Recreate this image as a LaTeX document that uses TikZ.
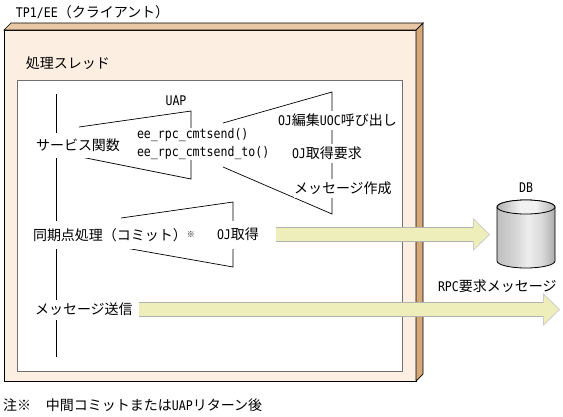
\documentclass[tikz,border=0pt]{standalone}
\usepackage{fontspec}
\setmainfont{Noto Sans CJK JP}
\newfontfamily\latfont[FakeStretch=0.87]{DejaVu Sans Mono}
\usetikzlibrary{shapes.geometric, arrows.meta, positioning, calc}
\usepackage{xcolor}
\definecolor{framebg}{HTML}{FDEEE2}
\definecolor{frametop}{HTML}{E8C8A4}
\definecolor{frameside}{HTML}{D4A878}
\definecolor{arrowbg}{HTML}{EEEEBB}
\definecolor{threadline}{HTML}{707070}
\newcommand{\lat}[1]{{\latfont\fontsize{13.3}{18}\selectfont #1}}
\pgfdeclarehorizontalshading{dbshade}{100bp}{
    color(0bp)=(black!25); color(25bp)=(black!25); color(40bp)=(black!17);
    color(52bp)=(black!7); color(64bp)=(black!15); color(75bp)=(black!33); color(100bp)=(black!33)}
\pgfdeclarehorizontalshading{dbtopshade}{100bp}{
    color(0bp)=(black!30); color(25bp)=(black!30); color(45bp)=(black!5);
    color(58bp)=(black!5); color(75bp)=(black!30); color(100bp)=(black!30)}

\begin{document}
\begin{tikzpicture}[
    x=1pt, y=-1pt,
    every node/.style={font=\fontsize{14}{18}\selectfont, inner sep=0pt, outer sep=0pt},
    framebox/.style={draw=black, fill=framebg, line width=.8pt},
    threadbox/.style={draw=threadline, fill=white, line width=1pt},
    lbl/.style={fill=white, anchor=west, minimum height=#1},
    lbl/.default=20pt,
    txt/.style={anchor=west},
    bracket/.style={draw=black, line width=.7pt},
    blockarr/.style={draw=arrowbg, line width=13pt, shorten >=16pt,
        preaction={draw=black!30, line width=14.6pt, shorten >=0pt,
            -{Triangle[length=17pt, width=33pt, fill=arrowbg, color=black!20, line width=.8pt]}}},
    dbcyl/.style={minimum width=58pt, minimum height=68pt}
]
    \useasboundingbox (0,0) rectangle (563,416);
    \node[txt] (client) at (16,12.5) {\lat{TP1/EE}（クライアント）};
    \node[framebox, minimum width=412pt, minimum height=351pt] (frame) at (210,205.5) {};
    \draw[fill=frametop, line width=.7pt] (frame.north west) -- ++(7,-7) -- ++(412,0) -- (frame.north east) -- cycle;
    \draw[fill=frameside, line width=.7pt] (frame.north east) -- ++(7,-7) -- ++(0,351) -- (frame.south east) -- cycle;
    \node[txt] (thread) at (26,63) {処理スレッド};
    \node[threadbox, minimum width=385pt, minimum height=291pt] (inner) at (209.5,225.5) {};

    \draw[bracket] (56,94) -- (56,357);
    \draw[bracket] (79,127) -- (191,111) -- (191,179) -- (81,157);
    \draw[bracket] (223,123) -- (332,92) -- (332,214) -- (223,167);
    \draw[bracket] (121,218) -- (233,202) -- (233,267) -- (120,247);

    \node[lbl=25pt] (service) at (36,145.5) {サービス関数};
    \node (uap) at (176,101) {\lat{UAP}};
    \node[fill=white, anchor=west, align=left] (cmtsend) at (137,144)
        {\lat{ee\_rpc\_cmtsend()}\\\lat{ee\_rpc\_cmtsend\_to()}};
    \node[lbl=19pt] (ojedit) at (278,120) {\lat{OJ}編集\lat{UOC}呼び出し};
    \node[lbl=19pt] (ojreq) at (292,153.5) {\lat{OJ}取得要求};
    \node[lbl=19pt] (msgmake) at (294,188.5) {メッセージ作成};
    \node[lbl=28pt] (syncpt) at (33,235) {同期点処理（コミット）\raisebox{3pt}{\fontsize{8}{8}\selectfont ※}};
    \node[lbl=28pt] (ojget) at (217,234.5) {\lat{OJ}取得};
    \node[lbl=20pt] (msgsend) at (35,309.5) {メッセージ送信};

    \node (dblabel) at (526,188) {\lat{DB}};
    \node[dbcyl] (db) at (526,234) {};
    \draw[shading=dbshade, line width=.8pt] ([yshift=-7pt]db.north west) -- ([yshift=7pt]db.south west)
        arc[start angle=180, end angle=360, x radius=29pt, y radius=7pt]
        -- ([yshift=-7pt]db.north east) arc[start angle=0, end angle=180, x radius=29pt, y radius=7pt] -- cycle;
    \draw[shading=dbtopshade, line width=.8pt] ([yshift=-7pt]db.north west)
        arc[start angle=180, end angle=540, x radius=29pt, y radius=7pt] -- cycle;
    \node[txt] (rpcmsg) at (438,286) {\lat{RPC}要求メッセージ};
    \coordinate (rpcend) at (560,309.5);
    \draw[blockarr] ([xshift=17pt]ojget.east) -- ([xshift=-7pt,yshift=-.5pt]db.west);
    \draw[blockarr] ([xshift=6pt]msgsend.east) -- (rpcend);

    \node[txt] (note) at (3,405) {注※\hspace{15pt}中間コミットまたは\lat{UAP}リターン後};
\end{tikzpicture}
\end{document}
